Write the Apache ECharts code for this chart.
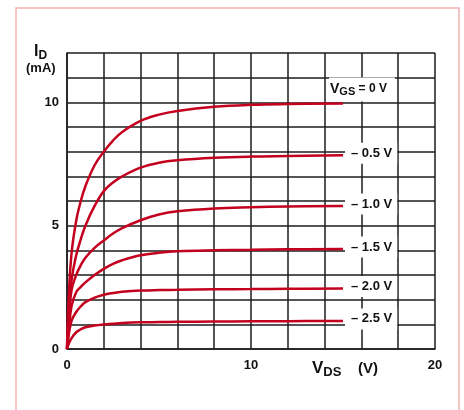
<!DOCTYPE html>
<html>
<head>
<meta charset="utf-8">
<script src="https://cdn.jsdelivr.net/npm/echarts@6/dist/echarts.min.js"></script>
<style>
html, body { margin: 0; padding: 0; background: #fff; }
#main { width: 464px; height: 410px; }
</style>
</head>
<body>
<div id="main"></div>
<script>
// drain-source voltage samples (V)
const vds = [0, 0.1, 0.25, 0.5, 0.75, 1, 1.5, 2, 2.5, 3, 4, 5, 6, 8, 10, 12, 15];
// drain current (mA) for each gate-source voltage
const id0   = [0, 2.2, 3.9, 5.2, 6.0, 6.6, 7.45, 8.0, 8.45, 8.8, 9.25, 9.5, 9.65, 9.82, 9.9, 9.93, 9.95];
const idM05 = [0, 1.5, 2.8, 3.8, 4.45, 5.0, 5.8, 6.4, 6.75, 7.0, 7.35, 7.55, 7.65, 7.75, 7.8, 7.82, 7.85];
const idM10 = [0, 1.2, 2.4, 3.0, 3.4, 3.7, 4.1, 4.4, 4.68, 4.9, 5.22, 5.45, 5.58, 5.7, 5.75, 5.78, 5.8];
const idM15 = [0, 0.8, 1.75, 2.3, 2.52, 2.7, 3.0, 3.25, 3.45, 3.6, 3.8, 3.9, 3.96, 4.0, 4.02, 4.04, 4.05];
const idM20 = [0, 0.6, 1.15, 1.5, 1.73, 1.9, 2.08, 2.2, 2.27, 2.32, 2.37, 2.39, 2.4, 2.42, 2.43, 2.44, 2.45];
const idM25 = [0, 0.22, 0.44, 0.68, 0.8, 0.88, 0.95, 0.99, 1.02, 1.05, 1.08, 1.09, 1.1, 1.11, 1.12, 1.13, 1.14];
const curveLabels = ['{v|V}{s|GS}{n| = 0 V}', '– 0.5 V', '– 1.0 V', '– 1.5 V', '– 2.0 V', '– 2.5 V'];
const xTicks = [0, 10, 20];
const yTicks = [0, 5, 10];

const FONT = '"Liberation Sans Narrow", "Liberation Sans", Arial, sans-serif';
const RED = '#c4001f';
const GRID = '#1c1c1c';

const curves = [id0, idM05, idM10, idM15, idM20, idM25];

const series = curves.map((arr, k) => ({
  type: 'line',
  data: vds.map((v, i) => [v, arr[i]]),
  smooth: 0.4,
  showSymbol: false,
  lineStyle: { color: RED, width: 2.5 },
  endLabel: {
    show: true,
    formatter: curveLabels[k],
    distance: 2,
    offset: k === 0 ? [-16, -14] : [0, -2],
    backgroundColor: '#fff',
    padding: k === 0 ? [3, 8, 4, 1] : [4, 5, 4, 6],
    color: '#111',
    fontFamily: FONT,
    fontWeight: 'bold',
    fontSize: 13,
    rich: {
      v: { fontFamily: FONT, fontWeight: 'bold', fontSize: 14, color: '#111' },
      s: { fontFamily: FONT, fontWeight: 'bold', fontSize: 11, color: '#111', verticalAlign: 'bottom', padding: [6, 0, 0, 0] },
      n: { fontFamily: FONT, fontWeight: 'bold', fontSize: 12, color: '#111' }
    }
  },
  z: 3
}));

const option = {
  animation: false,
  backgroundColor: '#fff',
  grid: { left: 67, top: 53, right: 29, bottom: 61 },
  xAxis: {
    type: 'value',
    min: 0,
    max: 20,
    interval: 2,
    axisLine: { show: true, lineStyle: { color: GRID, width: 1.5 } },
    axisTick: { show: false },
    splitLine: { show: true, lineStyle: { color: GRID, width: 1.5 } },
    axisLabel: {
      margin: 10,
      color: '#111',
      fontFamily: FONT,
      fontWeight: 'bold',
      fontSize: 13,
      formatter: v => (xTicks.indexOf(v) >= 0 ? String(v) : '')
    }
  },
  yAxis: {
    type: 'value',
    min: 0,
    max: 12,
    interval: 1,
    axisLine: { show: true, lineStyle: { color: GRID, width: 1.5 } },
    axisTick: { show: false },
    splitLine: { show: true, lineStyle: { color: GRID, width: 1.5 } },
    axisLabel: {
      margin: 8,
      color: '#111',
      fontFamily: FONT,
      fontWeight: 'bold',
      fontSize: 13,
      formatter: v => (yTicks.indexOf(v) >= 0 ? String(v) : '')
    }
  },
  graphic: [
    {
      type: 'rect',
      shape: { x: 16, y: 8, width: 443, height: 420 },
      style: { fill: 'none', stroke: '#f3b3b3', lineWidth: 1.5 },
      silent: true,
      z: -1
    },
    {
      type: 'text',
      left: 34,
      top: 44,
      style: {
        text: '{i|I}{d|D}',
        rich: {
          i: { fontFamily: FONT, fontWeight: 'bold', fontSize: 16, fill: '#111' },
          d: { fontFamily: FONT, fontWeight: 'bold', fontSize: 12, fill: '#111', verticalAlign: 'bottom', padding: [7, 0, 0, 0] }
        }
      }
    },
    {
      type: 'text',
      left: 26,
      top: 62,
      style: { text: '(mA)', fontFamily: FONT, fontWeight: 'bold', fontSize: 13, fill: '#111' }
    },
    {
      type: 'text',
      left: 312,
      top: 360,
      style: {
        text: '{v|V}{s|DS}{u|    (V)}',
        rich: {
          v: { fontFamily: FONT, fontWeight: 'bold', fontSize: 17, fill: '#111' },
          s: { fontFamily: FONT, fontWeight: 'bold', fontSize: 13, fill: '#111', verticalAlign: 'bottom', padding: [8, 0, 0, 0] },
          u: { fontFamily: FONT, fontWeight: 'bold', fontSize: 15, fill: '#111' }
        }
      }
    }
  ],
  series: series
};

echarts.init(document.getElementById('main')).setOption(option);
</script>
</body>
</html>
